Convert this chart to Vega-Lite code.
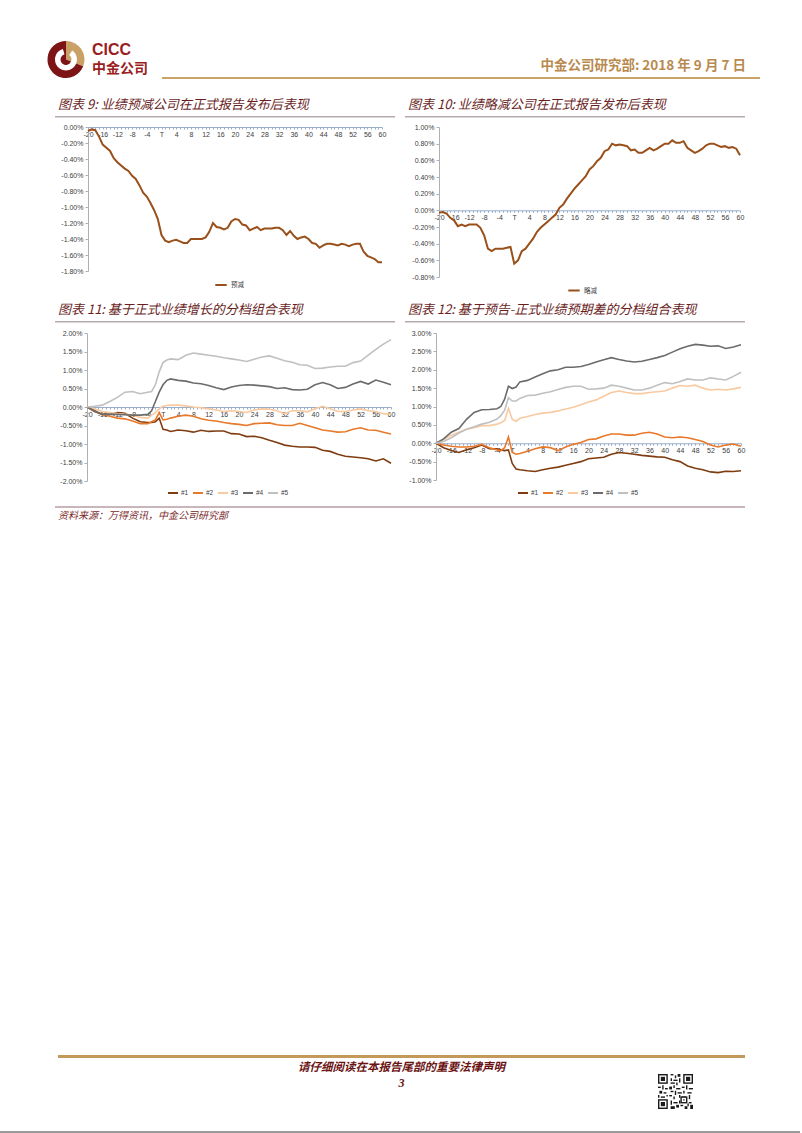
{
"$schema": "https://vega.github.io/schema/vega-lite/v6.json",
"padding": 0,
"background": "white",
"bounds": "flush",
"spacing": 0,
"resolve": {"scale": {"color": "independent"}, "legend": {"color": "independent"}},
"datasets": {"empty": []},
"config": {
  "view": {"stroke": null},
  "font": "Liberation Sans",
  "title": {"font": "Noto Sans CJK SC", "fontSize": 13, "fontStyle": "italic", "fontWeight": "normal", "color": "#6a1e1e", "frame": "group"},
  "axis": {"labelFont": "Liberation Sans"},
  "legend": {"labelFont": "Liberation Sans"}
},
"vconcat": [
  {"width": 800, "height": 41, "data": {"name": "empty"}, "mark": "point"},
  {"bounds": "flush", "spacing": 0, "resolve": {"scale": {"color": "independent"}, "legend": {"color": "independent"}}, "hconcat": [
    {"width": 45, "height": 37, "data": {"name": "empty"}, "mark": "point"},
    {"width": 42, "height": 37, "layer": [
      {"data": {"values": [{"k": "g", "t1": 0, "t2": 1.95}, {"k": "r", "t1": 1.95, "t2": 6.2832}]},
       "mark": {"type": "arc", "outerRadius": 18.5, "innerRadius": 0},
       "encoding": {"theta": {"field": "t1", "type": "quantitative", "scale": null}, "theta2": {"field": "t2"},
         "color": {"field": "k", "type": "nominal", "scale": {"domain": ["g", "r"], "range": ["#c9a066", "#7d1416"]}, "legend": null}}},
      {"data": {"values": [{"t1": 0.6, "t2": 6.0}]},
       "mark": {"type": "arc", "outerRadius": 11, "innerRadius": 5.5, "color": "white"},
       "encoding": {"theta": {"field": "t1", "type": "quantitative", "scale": null}, "theta2": {"field": "t2"}}}
    ]},
    {"width": 70, "height": 37, "layer": [
      {"data": {"values": [{"t": "CICC", "r": "a", "p": 0}]},
       "mark": {"type": "text", "font": "Liberation Sans", "fontWeight": "bold", "fontSize": 16, "align": "left", "baseline": "middle", "color": "#9a1d22", "dx": 5},
       "encoding": {"text": {"field": "t"}, "y": {"field": "r", "type": "nominal", "scale": {"domain": ["a", "b"]}, "axis": null}, "x": {"field": "p", "type": "quantitative", "scale": {"domain": [0, 1]}, "axis": null}}},
      {"data": {"values": [{"t": "中金公司", "r": "b", "p": 0}]},
       "mark": {"type": "text", "font": "Noto Sans CJK SC", "fontWeight": "bold", "fontSize": 14, "align": "left", "baseline": "middle", "color": "#9a1d22", "dx": 5},
       "encoding": {"text": {"field": "t"}, "y": {"field": "r", "type": "nominal", "scale": {"domain": ["a", "b"]}, "axis": null}, "x": {"field": "p", "type": "quantitative", "scale": {"domain": [0, 1]}, "axis": null}}}
    ]},
    {"width": 5, "height": 37, "data": {"name": "empty"}, "mark": "point"},
    {"bounds": "flush", "spacing": 0, "vconcat": [
      {"width": 598, "height": 36, "data": {"name": "empty"}, "mark": "point"},
      {"width": 598, "height": 2, "data": {"name": "empty"}, "mark": "point", "view": {"fill": "#c9a46a", "stroke": null},
       "title": {"text": "中金公司研究部: 2018 年 9 月 7 日", "anchor": "end", "orient": "top", "offset": 5, "dx": -14, "fontSize": 13.5, "fontWeight": "bold", "fontStyle": "normal", "color": "#b98a50"}}
    ]}
  ]},
  {"width": 800, "height": 75, "data": {"name": "empty"}, "mark": "point"},
  {"bounds": "flush", "spacing": 0, "hconcat": [
    {"width": 55, "height": 1.5, "data": {"name": "empty"}, "mark": "point"},
    {"width": 340, "height": 1.5, "data": {"name": "empty"}, "mark": "point", "view": {"fill": "#b4aab0", "stroke": null},
     "title": {"text": "图表 9: 业绩预减公司在正式报告发布后表现", "anchor": "start", "orient": "top", "offset": 4, "dx": 3}},
    {"width": 10, "height": 1.5, "data": {"name": "empty"}, "mark": "point"},
    {"width": 340, "height": 1.5, "data": {"name": "empty"}, "mark": "point", "view": {"fill": "#b4aab0", "stroke": null},
     "title": {"text": "图表 10: 业绩略减公司在正式报告发布后表现", "anchor": "start", "orient": "top", "offset": 4, "dx": 3}}
  ]},
  {"width": 800, "height": 11, "data": {"name": "empty"}, "mark": "point"},
  {"bounds": "flush", "spacing": 0, "resolve": {"scale": {"color": "independent"}, "legend": {"color": "independent"}}, "hconcat": [
    {"width": 88, "height": 144, "data": {"name": "empty"}, "mark": "point"},
    {"width": 294, "height": 144,
     "data": {"values": [
      {"x":-20,"v":-0.05},{"x":-19,"v":-0.03},{"x":-18,"v":-0.04},{"x":-17,"v":-0.12},{"x":-16,"v":-0.22},{"x":-15,"v":-0.26},{"x":-14,"v":-0.30},{"x":-13,"v":-0.39},{"x":-12,"v":-0.44},{"x":-11,"v":-0.48},
      {"x":-10,"v":-0.52},{"x":-9,"v":-0.55},{"x":-8,"v":-0.61},{"x":-7,"v":-0.65},{"x":-6,"v":-0.73},{"x":-5,"v":-0.82},{"x":-4,"v":-0.87},{"x":-3,"v":-0.95},{"x":-2,"v":-1.04},{"x":-1,"v":-1.15},
      {"x":0,"v":-1.35},{"x":1,"v":-1.42},{"x":2,"v":-1.44},{"x":3,"v":-1.42},{"x":4,"v":-1.41},{"x":5,"v":-1.43},{"x":6,"v":-1.45},{"x":7,"v":-1.45},{"x":8,"v":-1.40},{"x":9,"v":-1.40},
      {"x":10,"v":-1.40},{"x":11,"v":-1.40},{"x":12,"v":-1.38},{"x":13,"v":-1.31},{"x":14,"v":-1.20},{"x":15,"v":-1.25},{"x":16,"v":-1.26},{"x":17,"v":-1.28},{"x":18,"v":-1.26},{"x":19,"v":-1.18},
      {"x":20,"v":-1.15},{"x":21,"v":-1.16},{"x":22,"v":-1.22},{"x":23,"v":-1.23},{"x":24,"v":-1.29},{"x":25,"v":-1.27},{"x":26,"v":-1.25},{"x":27,"v":-1.29},{"x":28,"v":-1.27},{"x":29,"v":-1.27},
      {"x":30,"v":-1.27},{"x":31,"v":-1.26},{"x":32,"v":-1.26},{"x":33,"v":-1.29},{"x":34,"v":-1.35},{"x":35,"v":-1.30},{"x":36,"v":-1.36},{"x":37,"v":-1.40},{"x":38,"v":-1.38},{"x":39,"v":-1.37},
      {"x":40,"v":-1.40},{"x":41,"v":-1.45},{"x":42,"v":-1.46},{"x":43,"v":-1.51},{"x":44,"v":-1.48},{"x":45,"v":-1.46},{"x":46,"v":-1.46},{"x":47,"v":-1.47},{"x":48,"v":-1.48},{"x":49,"v":-1.46},
      {"x":50,"v":-1.47},{"x":51,"v":-1.49},{"x":52,"v":-1.47},{"x":53,"v":-1.46},{"x":54,"v":-1.46},{"x":55,"v":-1.56},{"x":56,"v":-1.61},{"x":57,"v":-1.63},{"x":58,"v":-1.65},{"x":59,"v":-1.69},{"x":60,"v":-1.69}
     ]},
     "mark": {"type": "line", "strokeWidth": 2},
     "encoding": {
      "x": {"field": "x", "type": "quantitative", "scale": {"domain": [-20, 60], "nice": false, "zero": false},
        "axis": {"orient": "bottom", "offset": -144, "values": [-20,-19,-18,-17,-16,-15,-14,-13,-12,-11,-10,-9,-8,-7,-6,-5,-4,-3,-2,-1,0,1,2,3,4,5,6,7,8,9,10,11,12,13,14,15,16,17,18,19,20,21,22,23,24,25,26,27,28,29,30,31,32,33,34,35,36,37,38,39,40,41,42,43,44,45,46,47,48,49,50,51,52,53,54,55,56,57,58,59,60],
          "labelExpr": "datum.value % 4 == 0 ? (datum.value == 0 ? 'T' : '' + datum.value) : ''", "labelOverlap": false, "labelFlush": false, "grid": false, "title": null,
          "domainColor": "#9aaecb", "tickColor": "#9aaecb", "tickSize": 2, "labelFontSize": 7, "labelColor": "#404040", "labelPadding": 1}},
      "y": {"field": "v", "type": "quantitative", "scale": {"domain": [-1.8, 0], "nice": false, "zero": false},
        "axis": {"values": [-1.8,-1.6,-1.4,-1.2,-1,-0.8,-0.6,-0.4,-0.2,0], "labelExpr": "(datum.value < -0.0001 ? '-' : '') + format(abs(datum.value), '.2f') + '%'",
          "grid": false, "title": null, "domainColor": "#b0b0b0", "tickColor": "#b0b0b0", "tickSize": 3, "labelFontSize": 7, "labelColor": "#404040", "labelPadding": 2}},
      "color": {"datum": "预减", "type": "nominal", "scale": {"range": ["#99501a"]},
        "legend": {"orient": "none", "legendX": 126, "legendY": 151, "direction": "horizontal", "title": null, "symbolType": "stroke", "symbolStrokeWidth": 2, "symbolSize": 130, "labelFontSize": 6.5, "labelFont": "Noto Sans CJK SC", "labelColor": "#404040", "labelOffset": 3}}
     }},
    {"width": 57, "height": 144, "data": {"name": "empty"}, "mark": "point"},
    {"width": 301, "height": 150,
     "data": {"values": [
      {"x":-20,"v":-0.03},{"x":-19,"v":-0.02},{"x":-18,"v":-0.04},{"x":-17,"v":-0.09},{"x":-16,"v":-0.12},{"x":-15,"v":-0.19},{"x":-14,"v":-0.17},{"x":-13,"v":-0.19},{"x":-12,"v":-0.17},{"x":-11,"v":-0.17},
      {"x":-10,"v":-0.17},{"x":-9,"v":-0.21},{"x":-8,"v":-0.30},{"x":-7,"v":-0.46},{"x":-6,"v":-0.49},{"x":-5,"v":-0.46},{"x":-4,"v":-0.46},{"x":-3,"v":-0.46},{"x":-2,"v":-0.45},{"x":-1,"v":-0.44},
      {"x":0,"v":-0.64},{"x":1,"v":-0.60},{"x":2,"v":-0.49},{"x":3,"v":-0.46},{"x":4,"v":-0.40},{"x":5,"v":-0.34},{"x":6,"v":-0.26},{"x":7,"v":-0.21},{"x":8,"v":-0.17},{"x":9,"v":-0.13},
      {"x":10,"v":-0.09},{"x":11,"v":-0.05},{"x":12,"v":0.03},{"x":13,"v":0.07},{"x":14,"v":0.14},{"x":15,"v":0.20},{"x":16,"v":0.26},{"x":17,"v":0.31},{"x":18,"v":0.36},{"x":19,"v":0.41},
      {"x":20,"v":0.49},{"x":21,"v":0.53},{"x":22,"v":0.59},{"x":23,"v":0.63},{"x":24,"v":0.71},{"x":25,"v":0.73},{"x":26,"v":0.80},{"x":27,"v":0.78},{"x":28,"v":0.79},{"x":29,"v":0.78},
      {"x":30,"v":0.77},{"x":31,"v":0.72},{"x":32,"v":0.73},{"x":33,"v":0.69},{"x":34,"v":0.69},{"x":35,"v":0.72},{"x":36,"v":0.75},{"x":37,"v":0.72},{"x":38,"v":0.74},{"x":39,"v":0.77},
      {"x":40,"v":0.80},{"x":41,"v":0.80},{"x":42,"v":0.84},{"x":43,"v":0.81},{"x":44,"v":0.81},{"x":45,"v":0.83},{"x":46,"v":0.75},{"x":47,"v":0.72},{"x":48,"v":0.69},{"x":49,"v":0.71},
      {"x":50,"v":0.74},{"x":51,"v":0.78},{"x":52,"v":0.80},{"x":53,"v":0.80},{"x":54,"v":0.78},{"x":55,"v":0.76},{"x":56,"v":0.77},{"x":57,"v":0.75},{"x":58,"v":0.76},{"x":59,"v":0.74},{"x":60,"v":0.66}
     ]},
     "mark": {"type": "line", "strokeWidth": 2},
     "encoding": {
      "x": {"field": "x", "type": "quantitative", "scale": {"domain": [-20, 60], "nice": false, "zero": false},
        "axis": {"orient": "bottom", "offset": -66.7, "values": [-20,-19,-18,-17,-16,-15,-14,-13,-12,-11,-10,-9,-8,-7,-6,-5,-4,-3,-2,-1,0,1,2,3,4,5,6,7,8,9,10,11,12,13,14,15,16,17,18,19,20,21,22,23,24,25,26,27,28,29,30,31,32,33,34,35,36,37,38,39,40,41,42,43,44,45,46,47,48,49,50,51,52,53,54,55,56,57,58,59,60],
          "labelExpr": "datum.value % 4 == 0 ? (datum.value == 0 ? 'T' : '' + datum.value) : ''", "labelOverlap": false, "labelFlush": false, "grid": false, "title": null,
          "domainColor": "#9aaecb", "tickColor": "#9aaecb", "tickSize": 2, "labelFontSize": 7, "labelColor": "#404040", "labelPadding": 1}},
      "y": {"field": "v", "type": "quantitative", "scale": {"domain": [-0.8, 1.0], "nice": false, "zero": false},
        "axis": {"values": [-0.8,-0.6,-0.4,-0.2,0,0.2,0.4,0.6,0.8,1.0], "labelExpr": "(datum.value < -0.0001 ? '-' : '') + format(abs(datum.value), '.2f') + '%'",
          "grid": false, "title": null, "domainColor": "#b0b0b0", "tickColor": "#b0b0b0", "tickSize": 3, "labelFontSize": 7, "labelColor": "#404040", "labelPadding": 2}},
      "color": {"datum": "略减", "type": "nominal", "scale": {"range": ["#99501a"]},
        "legend": {"orient": "none", "legendX": 128, "legendY": 156.5, "direction": "horizontal", "title": null, "symbolType": "stroke", "symbolStrokeWidth": 2, "symbolSize": 130, "labelFontSize": 6.5, "labelFont": "Noto Sans CJK SC", "labelColor": "#404040", "labelOffset": 3}}
     }}
  ]},
  {"width": 800, "height": 193.5, "data": {"name": "empty"}, "mark": "point"},
  {"bounds": "flush", "spacing": 0, "hconcat": [
    {"width": 55, "height": 1.5, "data": {"name": "empty"}, "mark": "point"},
    {"width": 340, "height": 1.5, "data": {"name": "empty"}, "mark": "point", "view": {"fill": "#b4aab0", "stroke": null},
     "title": {"text": "图表 11: 基于正式业绩增长的分档组合表现", "anchor": "start", "orient": "top", "offset": 4, "dx": 3}},
    {"width": 10, "height": 1.5, "data": {"name": "empty"}, "mark": "point"},
    {"width": 340, "height": 1.5, "data": {"name": "empty"}, "mark": "point", "view": {"fill": "#b4aab0", "stroke": null},
     "title": {"text": "图表 12: 基于预告-正式业绩预期差的分档组合表现", "anchor": "start", "orient": "top", "offset": 4, "dx": 3}}
  ]},
  {"width": 800, "height": 12, "data": {"name": "empty"}, "mark": "point"},
  {"bounds": "flush", "spacing": 0, "resolve": {"scale": {"color": "independent"}, "legend": {"color": "independent"}}, "hconcat": [
    {"width": 87, "height": 148, "data": {"name": "empty"}, "mark": "point"},
    {"width": 304, "height": 148,
     "data": {"values": [
      {"x":-20,"#1":0,"#2":0,"#3":0,"#4":0,"#5":0},
      {"x":-18,"#1":-0.12,"#2":-0.10,"#3":-0.05,"#4":-0.10,"#5":0.02},
      {"x":-16,"#1":-0.20,"#2":-0.20,"#3":-0.12,"#4":-0.20,"#5":0.05},
      {"x":-14,"#1":-0.20,"#2":-0.25,"#3":-0.15,"#4":-0.20,"#5":0.15},
      {"x":-12,"#1":-0.15,"#2":-0.30,"#3":-0.18,"#4":-0.20,"#5":0.26},
      {"x":-10,"#1":-0.17,"#2":-0.32,"#3":-0.20,"#4":-0.21,"#5":0.40},
      {"x":-8,"#1":-0.30,"#2":-0.38,"#3":-0.22,"#4":-0.22,"#5":0.42},
      {"x":-6,"#1":-0.40,"#2":-0.45,"#3":-0.28,"#4":-0.22,"#5":0.36},
      {"x":-4,"#1":-0.42,"#2":-0.45,"#3":-0.30,"#4":-0.20,"#5":0.40},
      {"x":-3,"#1":-0.42,"#2":-0.40,"#3":-0.22,"#4":-0.10,"#5":0.42},
      {"x":-2,"#1":-0.40,"#2":-0.35,"#3":-0.15,"#4":0.15,"#5":0.60},
      {"x":-1,"#1":-0.30,"#2":-0.15,"#3":-0.05,"#4":0.40,"#5":0.95},
      {"x":0,"#1":-0.60,"#2":-0.35,"#3":0.02,"#4":0.60,"#5":1.20},
      {"x":1,"#1":-0.62,"#2":-0.33,"#3":0.04,"#4":0.72,"#5":1.27},
      {"x":2,"#1":-0.66,"#2":-0.30,"#3":0.05,"#4":0.76,"#5":1.30},
      {"x":4,"#1":-0.62,"#2":-0.25,"#3":0.05,"#4":0.72,"#5":1.28},
      {"x":6,"#1":-0.64,"#2":-0.22,"#3":0.03,"#4":0.70,"#5":1.40},
      {"x":8,"#1":-0.68,"#2":-0.25,"#3":0.00,"#4":0.65,"#5":1.46},
      {"x":10,"#1":-0.63,"#2":-0.32,"#3":-0.02,"#4":0.63,"#5":1.43},
      {"x":12,"#1":-0.66,"#2":-0.36,"#3":-0.05,"#4":0.58,"#5":1.40},
      {"x":14,"#1":-0.65,"#2":-0.38,"#3":-0.08,"#4":0.52,"#5":1.37},
      {"x":16,"#1":-0.65,"#2":-0.42,"#3":-0.12,"#4":0.47,"#5":1.33},
      {"x":18,"#1":-0.72,"#2":-0.45,"#3":-0.10,"#4":0.54,"#5":1.30},
      {"x":20,"#1":-0.73,"#2":-0.47,"#3":-0.12,"#4":0.58,"#5":1.27},
      {"x":22,"#1":-0.80,"#2":-0.50,"#3":-0.15,"#4":0.60,"#5":1.23},
      {"x":24,"#1":-0.79,"#2":-0.45,"#3":-0.08,"#4":0.59,"#5":1.29},
      {"x":26,"#1":-0.83,"#2":-0.44,"#3":-0.05,"#4":0.57,"#5":1.35},
      {"x":28,"#1":-0.90,"#2":-0.43,"#3":-0.06,"#4":0.55,"#5":1.38},
      {"x":30,"#1":-0.96,"#2":-0.48,"#3":-0.10,"#4":0.50,"#5":1.32},
      {"x":32,"#1":-1.03,"#2":-0.50,"#3":-0.18,"#4":0.52,"#5":1.25},
      {"x":34,"#1":-1.06,"#2":-0.50,"#3":-0.10,"#4":0.47,"#5":1.21},
      {"x":36,"#1":-1.08,"#2":-0.44,"#3":-0.10,"#4":0.46,"#5":1.14},
      {"x":38,"#1":-1.08,"#2":-0.50,"#3":-0.13,"#4":0.48,"#5":1.13},
      {"x":40,"#1":-1.09,"#2":-0.56,"#3":-0.05,"#4":0.60,"#5":1.04},
      {"x":42,"#1":-1.17,"#2":-0.62,"#3":0.02,"#4":0.66,"#5":1.05},
      {"x":44,"#1":-1.20,"#2":-0.65,"#3":-0.05,"#4":0.60,"#5":1.08},
      {"x":46,"#1":-1.28,"#2":-0.68,"#3":-0.12,"#4":0.50,"#5":1.10},
      {"x":48,"#1":-1.33,"#2":-0.67,"#3":-0.12,"#4":0.53,"#5":1.10},
      {"x":50,"#1":-1.35,"#2":-0.60,"#3":-0.08,"#4":0.62,"#5":1.20},
      {"x":52,"#1":-1.37,"#2":-0.56,"#3":-0.05,"#4":0.69,"#5":1.24},
      {"x":54,"#1":-1.40,"#2":-0.62,"#3":-0.10,"#4":0.62,"#5":1.40},
      {"x":56,"#1":-1.46,"#2":-0.63,"#3":-0.12,"#4":0.73,"#5":1.56},
      {"x":58,"#1":-1.40,"#2":-0.68,"#3":-0.18,"#4":0.67,"#5":1.70},
      {"x":60,"#1":-1.52,"#2":-0.73,"#3":-0.20,"#4":0.60,"#5":1.82}
     ]},
     "transform": [{"fold": ["#1", "#2", "#3", "#4", "#5"], "as": ["s", "v"]}],
     "mark": {"type": "line", "strokeWidth": 1.6},
     "encoding": {
      "x": {"field": "x", "type": "quantitative", "scale": {"domain": [-20, 60], "nice": false, "zero": false},
        "axis": {"orient": "bottom", "offset": -74, "values": [-20,-19,-18,-17,-16,-15,-14,-13,-12,-11,-10,-9,-8,-7,-6,-5,-4,-3,-2,-1,0,1,2,3,4,5,6,7,8,9,10,11,12,13,14,15,16,17,18,19,20,21,22,23,24,25,26,27,28,29,30,31,32,33,34,35,36,37,38,39,40,41,42,43,44,45,46,47,48,49,50,51,52,53,54,55,56,57,58,59,60],
          "labelExpr": "datum.value % 4 == 0 ? (datum.value == 0 ? 'T' : '' + datum.value) : ''", "labelOverlap": false, "labelFlush": false, "grid": false, "title": null,
          "domainColor": "#9aaecb", "tickColor": "#9aaecb", "tickSize": 2, "labelFontSize": 7, "labelColor": "#404040", "labelPadding": 1}},
      "y": {"field": "v", "type": "quantitative", "scale": {"domain": [-2, 2], "nice": false, "zero": false},
        "axis": {"values": [-2,-1.5,-1,-0.5,0,0.5,1,1.5,2], "labelExpr": "(datum.value < -0.0001 ? '-' : '') + format(abs(datum.value), '.2f') + '%'",
          "grid": false, "title": null, "domainColor": "#b0b0b0", "tickColor": "#b0b0b0", "tickSize": 3, "labelFontSize": 7, "labelColor": "#404040", "labelPadding": 2}},
      "color": {"field": "s", "type": "nominal", "scale": {"domain": ["#1", "#2", "#3", "#4", "#5"], "range": ["#7f3c10", "#e8782a", "#f9c9a0", "#6b6b6b", "#c0c0c0"]},
        "legend": {"orient": "none", "legendX": 80, "legendY": 154, "direction": "horizontal", "title": null, "symbolType": "stroke", "symbolStrokeWidth": 2, "symbolSize": 100, "labelFontSize": 6.5, "labelColor": "#404040", "labelOffset": 2, "columnPadding": 0}}
     }},
    {"width": 45, "height": 148, "data": {"name": "empty"}, "mark": "point"},
    {"width": 305, "height": 147,
     "data": {"values": [
      {"x":-20,"#1":0,"#2":0,"#3":0,"#4":0,"#5":0},
      {"x":-18,"#1":-0.12,"#2":-0.05,"#3":0.10,"#4":0.12,"#5":0.05},
      {"x":-16,"#1":-0.20,"#2":-0.08,"#3":0.22,"#4":0.30,"#5":0.15},
      {"x":-14,"#1":-0.25,"#2":-0.10,"#3":0.30,"#4":0.40,"#5":0.28},
      {"x":-12,"#1":-0.18,"#2":-0.10,"#3":0.38,"#4":0.65,"#5":0.38},
      {"x":-10,"#1":-0.12,"#2":-0.08,"#3":0.42,"#4":0.84,"#5":0.45},
      {"x":-8,"#1":-0.05,"#2":-0.03,"#3":0.48,"#4":0.91,"#5":0.52},
      {"x":-6,"#1":-0.15,"#2":-0.12,"#3":0.48,"#4":0.92,"#5":0.57},
      {"x":-4,"#1":-0.15,"#2":-0.18,"#3":0.52,"#4":0.94,"#5":0.66},
      {"x":-3,"#1":-0.18,"#2":-0.20,"#3":0.56,"#4":1.00,"#5":0.75},
      {"x":-2,"#1":-0.20,"#2":-0.12,"#3":0.62,"#4":1.20,"#5":0.90},
      {"x":-1,"#1":-0.18,"#2":0.17,"#3":0.95,"#4":1.55,"#5":1.24},
      {"x":0,"#1":-0.55,"#2":-0.25,"#3":0.65,"#4":1.49,"#5":1.15},
      {"x":1,"#1":-0.70,"#2":-0.30,"#3":0.60,"#4":1.53,"#5":1.15},
      {"x":2,"#1":-0.72,"#2":-0.28,"#3":0.68,"#4":1.67,"#5":1.22},
      {"x":4,"#1":-0.75,"#2":-0.22,"#3":0.73,"#4":1.71,"#5":1.30},
      {"x":6,"#1":-0.77,"#2":-0.15,"#3":0.78,"#4":1.80,"#5":1.31},
      {"x":8,"#1":-0.72,"#2":-0.10,"#3":0.82,"#4":1.89,"#5":1.36},
      {"x":10,"#1":-0.68,"#2":-0.12,"#3":0.84,"#4":1.97,"#5":1.40},
      {"x":12,"#1":-0.65,"#2":-0.20,"#3":0.88,"#4":2.00,"#5":1.46},
      {"x":14,"#1":-0.60,"#2":-0.10,"#3":0.93,"#4":2.07,"#5":1.52},
      {"x":16,"#1":-0.55,"#2":-0.03,"#3":0.98,"#4":2.07,"#5":1.55},
      {"x":18,"#1":-0.50,"#2":0.02,"#3":1.05,"#4":2.09,"#5":1.55},
      {"x":20,"#1":-0.42,"#2":0.10,"#3":1.12,"#4":2.14,"#5":1.47},
      {"x":22,"#1":-0.40,"#2":0.12,"#3":1.18,"#4":2.21,"#5":1.48},
      {"x":24,"#1":-0.38,"#2":0.20,"#3":1.28,"#4":2.27,"#5":1.50},
      {"x":26,"#1":-0.30,"#2":0.25,"#3":1.38,"#4":2.33,"#5":1.58},
      {"x":28,"#1":-0.25,"#2":0.25,"#3":1.42,"#4":2.28,"#5":1.55},
      {"x":30,"#1":-0.27,"#2":0.22,"#3":1.38,"#4":2.24,"#5":1.50},
      {"x":32,"#1":-0.30,"#2":0.22,"#3":1.35,"#4":2.21,"#5":1.45},
      {"x":34,"#1":-0.33,"#2":0.27,"#3":1.35,"#4":2.23,"#5":1.45},
      {"x":36,"#1":-0.35,"#2":0.30,"#3":1.38,"#4":2.28,"#5":1.50},
      {"x":38,"#1":-0.37,"#2":0.25,"#3":1.40,"#4":2.33,"#5":1.58},
      {"x":40,"#1":-0.38,"#2":0.17,"#3":1.42,"#4":2.39,"#5":1.65},
      {"x":42,"#1":-0.45,"#2":0.15,"#3":1.50,"#4":2.48,"#5":1.62},
      {"x":44,"#1":-0.50,"#2":0.17,"#3":1.57,"#4":2.57,"#5":1.68},
      {"x":46,"#1":-0.62,"#2":0.15,"#3":1.55,"#4":2.64,"#5":1.75},
      {"x":48,"#1":-0.68,"#2":0.10,"#3":1.58,"#4":2.69,"#5":1.72},
      {"x":50,"#1":-0.72,"#2":0.05,"#3":1.50,"#4":2.67,"#5":1.72},
      {"x":52,"#1":-0.78,"#2":-0.05,"#3":1.45,"#4":2.64,"#5":1.78},
      {"x":54,"#1":-0.80,"#2":-0.10,"#3":1.47,"#4":2.65,"#5":1.75},
      {"x":56,"#1":-0.76,"#2":-0.05,"#3":1.45,"#4":2.58,"#5":1.72},
      {"x":58,"#1":-0.77,"#2":-0.02,"#3":1.48,"#4":2.62,"#5":1.82},
      {"x":60,"#1":-0.75,"#2":-0.08,"#3":1.52,"#4":2.68,"#5":1.93}
     ]},
     "transform": [{"fold": ["#1", "#2", "#3", "#4", "#5"], "as": ["s", "v"]}],
     "mark": {"type": "line", "strokeWidth": 1.6},
     "encoding": {
      "x": {"field": "x", "type": "quantitative", "scale": {"domain": [-20, 60], "nice": false, "zero": false},
        "axis": {"orient": "bottom", "offset": -36.75, "values": [-20,-19,-18,-17,-16,-15,-14,-13,-12,-11,-10,-9,-8,-7,-6,-5,-4,-3,-2,-1,0,1,2,3,4,5,6,7,8,9,10,11,12,13,14,15,16,17,18,19,20,21,22,23,24,25,26,27,28,29,30,31,32,33,34,35,36,37,38,39,40,41,42,43,44,45,46,47,48,49,50,51,52,53,54,55,56,57,58,59,60],
          "labelExpr": "datum.value % 4 == 0 ? (datum.value == 0 ? 'T' : '' + datum.value) : ''", "labelOverlap": false, "labelFlush": false, "grid": false, "title": null,
          "domainColor": "#9aaecb", "tickColor": "#9aaecb", "tickSize": 2, "labelFontSize": 7, "labelColor": "#404040", "labelPadding": 1}},
      "y": {"field": "v", "type": "quantitative", "scale": {"domain": [-1, 3], "nice": false, "zero": false},
        "axis": {"values": [-1,-0.5,0,0.5,1,1.5,2,2.5,3], "labelExpr": "(datum.value < -0.0001 ? '-' : '') + format(abs(datum.value), '.2f') + '%'",
          "grid": false, "title": null, "domainColor": "#b0b0b0", "tickColor": "#b0b0b0", "tickSize": 3, "labelFontSize": 7, "labelColor": "#404040", "labelPadding": 2}},
      "color": {"field": "s", "type": "nominal", "scale": {"domain": ["#1", "#2", "#3", "#4", "#5"], "range": ["#7f3c10", "#e8782a", "#f9c9a0", "#6b6b6b", "#c0c0c0"]},
        "legend": {"orient": "none", "legendX": 81, "legendY": 154, "direction": "horizontal", "title": null, "symbolType": "stroke", "symbolStrokeWidth": 2, "symbolSize": 100, "labelFontSize": 6.5, "labelColor": "#404040", "labelOffset": 2, "columnPadding": 0}}
     }}
  ]},
  {"width": 800, "height": 173, "data": {"name": "empty"}, "mark": "point"},
  {"bounds": "flush", "spacing": 0, "hconcat": [
    {"width": 55, "height": 2, "data": {"name": "empty"}, "mark": "point"},
    {"width": 690, "height": 2, "data": {"name": "empty"}, "mark": "point", "view": {"fill": "#c8b6ba", "stroke": null},
     "title": {"text": "资料来源：万得资讯，中金公司研究部", "anchor": "start", "orient": "bottom", "offset": 3, "dx": 3, "fontSize": 10, "color": "#7a2a2a"}}
  ]},
  {"width": 800, "height": 549, "data": {"name": "empty"}, "mark": "point"},
  {"bounds": "flush", "spacing": 0, "hconcat": [
    {"width": 58, "height": 3, "data": {"name": "empty"}, "mark": "point"},
    {"width": 687, "height": 3, "data": {"name": "empty"}, "mark": "point", "view": {"fill": "#c49a5a", "stroke": null},
     "title": {"text": "请仔细阅读在本报告尾部的重要法律声明", "subtitle": "3", "anchor": "middle", "orient": "bottom", "offset": 4, "fontSize": 11.5, "fontWeight": "bold", "color": "#6b1212",
       "subtitleFont": "Liberation Serif", "subtitleFontSize": 12, "subtitleFontWeight": "bold", "subtitleFontStyle": "italic", "subtitleColor": "#6b1212", "subtitlePadding": 4}}
  ]},
  {"width": 800, "height": 19, "data": {"name": "empty"}, "mark": "point"},
  {"bounds": "flush", "spacing": 0, "hconcat": [
    {"width": 658, "height": 35, "data": {"name": "empty"}, "mark": "point"},
    {"width": 35, "height": 35,
     "data": {"values": [
      {"x":0,"y":0,"x2":7,"y2":7,"c":"k"},{"x":1,"y":1,"x2":6,"y2":6,"c":"w"},{"x":2,"y":2,"x2":5,"y2":5,"c":"k"},
      {"x":18,"y":0,"x2":25,"y2":7,"c":"k"},{"x":19,"y":1,"x2":24,"y2":6,"c":"w"},{"x":20,"y":2,"x2":23,"y2":5,"c":"k"},
      {"x":0,"y":18,"x2":7,"y2":25,"c":"k"},{"x":1,"y":19,"x2":6,"y2":24,"c":"w"},{"x":2,"y":20,"x2":5,"y2":23,"c":"k"},
      {"x":9,"y":0,"x2":11,"y2":1,"c":"k"},{"x":12,"y":1,"x2":13,"y2":3,"c":"k"},{"x":14,"y":0,"x2":16,"y2":2,"c":"k"},{"x":9,"y":3,"x2":10,"y2":5,"c":"k"},
      {"x":11,"y":4,"x2":14,"y2":5,"c":"k"},{"x":15,"y":3,"x2":16,"y2":6,"c":"k"},{"x":9,"y":6,"x2":12,"y2":7,"c":"k"},{"x":13,"y":6,"x2":14,"y2":8,"c":"k"},
      {"x":0,"y":9,"x2":2,"y2":10,"c":"k"},{"x":3,"y":8,"x2":4,"y2":11,"c":"k"},{"x":5,"y":10,"x2":7,"y2":11,"c":"k"},{"x":1,"y":12,"x2":3,"y2":14,"c":"k"},
      {"x":4,"y":13,"x2":6,"y2":14,"c":"k"},{"x":0,"y":15,"x2":1,"y2":17,"c":"k"},{"x":2,"y":16,"x2":5,"y2":17,"c":"k"},{"x":6,"y":15,"x2":7,"y2":16,"c":"k"},
      {"x":8,"y":9,"x2":10,"y2":11,"c":"k"},{"x":11,"y":8,"x2":12,"y2":10,"c":"k"},{"x":13,"y":10,"x2":16,"y2":11,"c":"k"},{"x":17,"y":9,"x2":19,"y2":10,"c":"k"},
      {"x":20,"y":8,"x2":21,"y2":11,"c":"k"},{"x":22,"y":10,"x2":25,"y2":11,"c":"k"},{"x":9,"y":12,"x2":11,"y2":13,"c":"k"},{"x":12,"y":12,"x2":13,"y2":15,"c":"k"},
      {"x":14,"y":13,"x2":17,"y2":14,"c":"k"},{"x":18,"y":12,"x2":19,"y2":14,"c":"k"},{"x":21,"y":13,"x2":24,"y2":14,"c":"k"},{"x":8,"y":15,"x2":10,"y2":16,"c":"k"},
      {"x":11,"y":16,"x2":12,"y2":18,"c":"k"},{"x":15,"y":15,"x2":16,"y2":17,"c":"k"},{"x":17,"y":16,"x2":20,"y2":17,"c":"k"},{"x":22,"y":15,"x2":23,"y2":18,"c":"k"},
      {"x":16,"y":16,"x2":21,"y2":21,"c":"k"},{"x":17,"y":17,"x2":20,"y2":20,"c":"w"},{"x":18,"y":18,"x2":19,"y2":19,"c":"k"},
      {"x":9,"y":19,"x2":10,"y2":22,"c":"k"},{"x":11,"y":20,"x2":14,"y2":21,"c":"k"},{"x":13,"y":22,"x2":15,"y2":24,"c":"k"},{"x":9,"y":23,"x2":12,"y2":25,"c":"k"},
      {"x":16,"y":22,"x2":18,"y2":23,"c":"k"},{"x":19,"y":23,"x2":21,"y2":25,"c":"k"},{"x":22,"y":20,"x2":24,"y2":21,"c":"k"},{"x":23,"y":22,"x2":25,"y2":25,"c":"k"},
      {"x":21,"y":21,"x2":22,"y2":23,"c":"k"},{"x":15,"y":19,"x2":16,"y2":21,"c":"k"}
     ]},
     "mark": {"type": "rect"},
     "encoding": {
      "x": {"field": "x", "type": "quantitative", "scale": {"domain": [0, 25], "nice": false, "zero": false}, "axis": null},
      "x2": {"field": "x2"},
      "y": {"field": "y", "type": "quantitative", "scale": {"domain": [0, 25], "nice": false, "zero": false, "reverse": true}, "axis": null},
      "y2": {"field": "y2"},
      "color": {"field": "c", "type": "nominal", "scale": {"domain": ["k", "w"], "range": ["#1a1a1a", "#ffffff"]}, "legend": null}
     }}
  ]},
  {"width": 800, "height": 57, "data": {"name": "empty"}, "mark": "point"},
  {"width": 800, "height": 2, "data": {"name": "empty"}, "mark": "point", "view": {"fill": "#9a9a9a", "stroke": null}}
]
}
